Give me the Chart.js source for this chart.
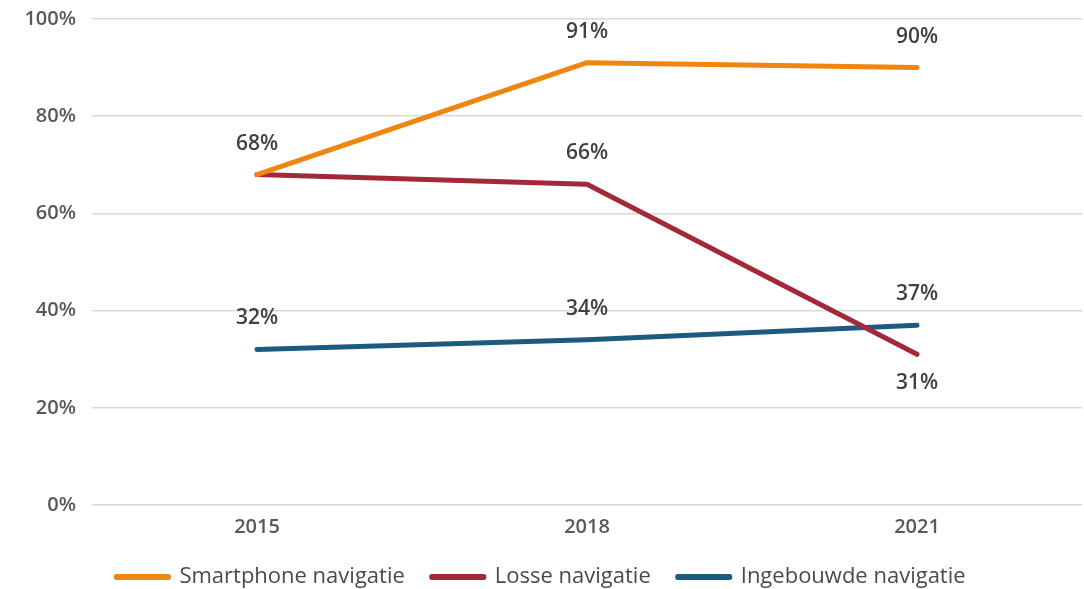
<!DOCTYPE html>
<html>
<head>
<meta charset="utf-8">
<script src="https://cdn.jsdelivr.net/npm/chart.js@4.4.1/dist/chart.umd.min.js"></script>
<style>
    html, body { margin: 0; padding: 0; background: #fff; }
    #wrap { width: 1084px; height: 589px; }
</style>
</head>
<body>
<div id="wrap"><canvas id="chart"></canvas></div>
<script>
// Chart data
const years = ['2015', '2018', '2021'];
const smartphone = [68, 91, 90];
const losse = [68, 66, 31];
const ingebouwd = [32, 34, 37];
const yTicks = [0, 20, 40, 60, 80, 100];

// Simple inline data label plugin
const valueLabels = {
    id: 'valueLabels',
    afterDatasetsDraw(chart) {
        const ctx = chart.ctx;
        ctx.save();
        ctx.font = '600 21px "Open Sans", sans-serif';
        ctx.fillStyle = '#404040';
        ctx.textAlign = 'center';
        ctx.textBaseline = 'middle';
        chart.data.datasets.forEach((ds, di) => {
            const meta = chart.getDatasetMeta(di);
            meta.data.forEach((pt, i) => {
                const pos = ds.labelPos[i];
                if (pos === 'none') return;
                const dy = pos === 'below' ? 29 : -31;
                ctx.fillText(ds.data[i] + '%', pt.x, pt.y + dy);
            });
        });
        ctx.restore();
    }
};

const ctx = document.getElementById('chart').getContext('2d');
new Chart(ctx, {
    type: 'line',
    data: {
        labels: years,
        datasets: [
            {
                label: 'Smartphone navigatie',
                data: smartphone,
                borderColor: '#F0850F',
                backgroundColor: '#F0850F',
                labelPos: ['above', 'above', 'above']
            },
            {
                label: 'Losse navigatie',
                data: losse,
                borderColor: '#A3283A',
                backgroundColor: '#A3283A',
                labelPos: ['none', 'above', 'below']
            },
            {
                label: 'Ingebouwde navigatie',
                data: ingebouwd,
                borderColor: '#1D5A7F',
                backgroundColor: '#1D5A7F',
                labelPos: ['above', 'above', 'above']
            }
        ]
    },
    options: {
        responsive: true,
        maintainAspectRatio: false,
        animation: false,
        layout: {
            padding: { top: 19, left: 0, right: 2, bottom: 0 }
        },
        elements: {
            line: { borderWidth: 5, borderCapStyle: 'round', borderJoinStyle: 'round', tension: 0 },
            point: { radius: 0, hoverRadius: 0 }
        },
        plugins: {
            legend: {
                position: 'bottom',
                maxHeight: 50,
                labels: {
                    boxWidth: 52,
                    boxHeight: 1,
                    padding: 27,
                    color: '#4a4a4a',
                    font: { family: '"Open Sans", sans-serif', size: 22, weight: '400' }
                }
            },
            tooltip: { enabled: false }
        },
        scales: {
            x: {
                offset: true,
                grid: { display: false, drawTicks: false },
                border: { display: false },
                afterFit: function(axis) {
                    axis.height = 34;
                },
                ticks: {
                    color: '#595959',
                    padding: 10,
                    font: { family: '"Open Sans", sans-serif', size: 20, weight: '600' }
                }
            },
            y: {
                min: 0,
                max: 100,
                afterBuildTicks: function(axis) {
                    axis.ticks = yTicks.map(v => ({ value: v }));
                },
                afterFit: function(axis) {
                    axis.width = 92;
                    axis.paddingTop = 0;
                    axis.paddingBottom = 0;
                },
                grid: { color: '#d9d9d9', lineWidth: 1.5, drawTicks: false },
                border: { display: false },
                ticks: {
                    color: '#595959',
                    padding: 16,
                    font: { family: '"Open Sans", sans-serif', size: 20, weight: '600' },
                    callback: function(value) {
                        return value + '%';
                    }
                }
            }
        }
    },
    plugins: [valueLabels]
});
</script>
</body>
</html>
